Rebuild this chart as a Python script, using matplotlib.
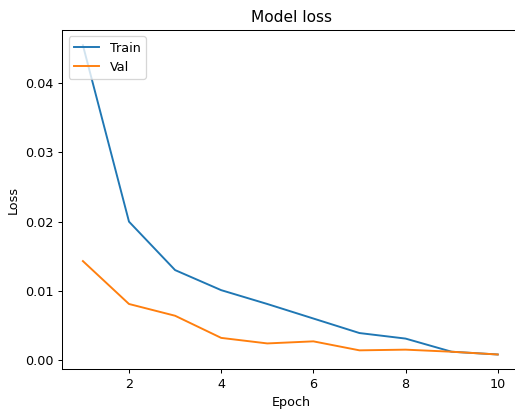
import numpy as np
import matplotlib
matplotlib.use("Agg")
import matplotlib.pyplot as plt

# valores
epochs = [1, 2, 3, 4, 5, 6, 7, 8, 9, 10]
train_loss = [0.0455, 0.0200, 0.0130, 0.0101, 0.0081, 0.0060, 0.0039, 0.0031, 0.0012, 0.0008]
val_loss = [0.0143, 0.0081, 0.0064, 0.0032, 0.0024, 0.0027, 0.0014, 0.0015, 0.0012, 0.0008]

dpi = 92
W, H = 515, 413
fig = plt.figure(figsize=(W / dpi, H / dpi), dpi=dpi)
# el eje derecho queda fuera de la imagen (recortada)
ax = fig.add_axes([62.3 / W, (H - 369.3) / H, (521.0 - 62.3) / W, (369.3 - 30) / H])

ax.plot(epochs, train_loss, label='Train')
ax.plot(epochs, val_loss, label='Val')
ax.set_title('Model loss')
ax.set_xlabel('Epoch')
ax.set_ylabel('Loss')
ax.set_xticks([2, 4, 6, 8, 10])
ax.set_yticks([0.0, 0.01, 0.02, 0.03, 0.04])
ax.set_xlim(0.553, 10.505)
ax.set_ylim(-0.00134, 0.0477)
ax.legend(loc='upper left')

fig.savefig('out.png', dpi=dpi)
